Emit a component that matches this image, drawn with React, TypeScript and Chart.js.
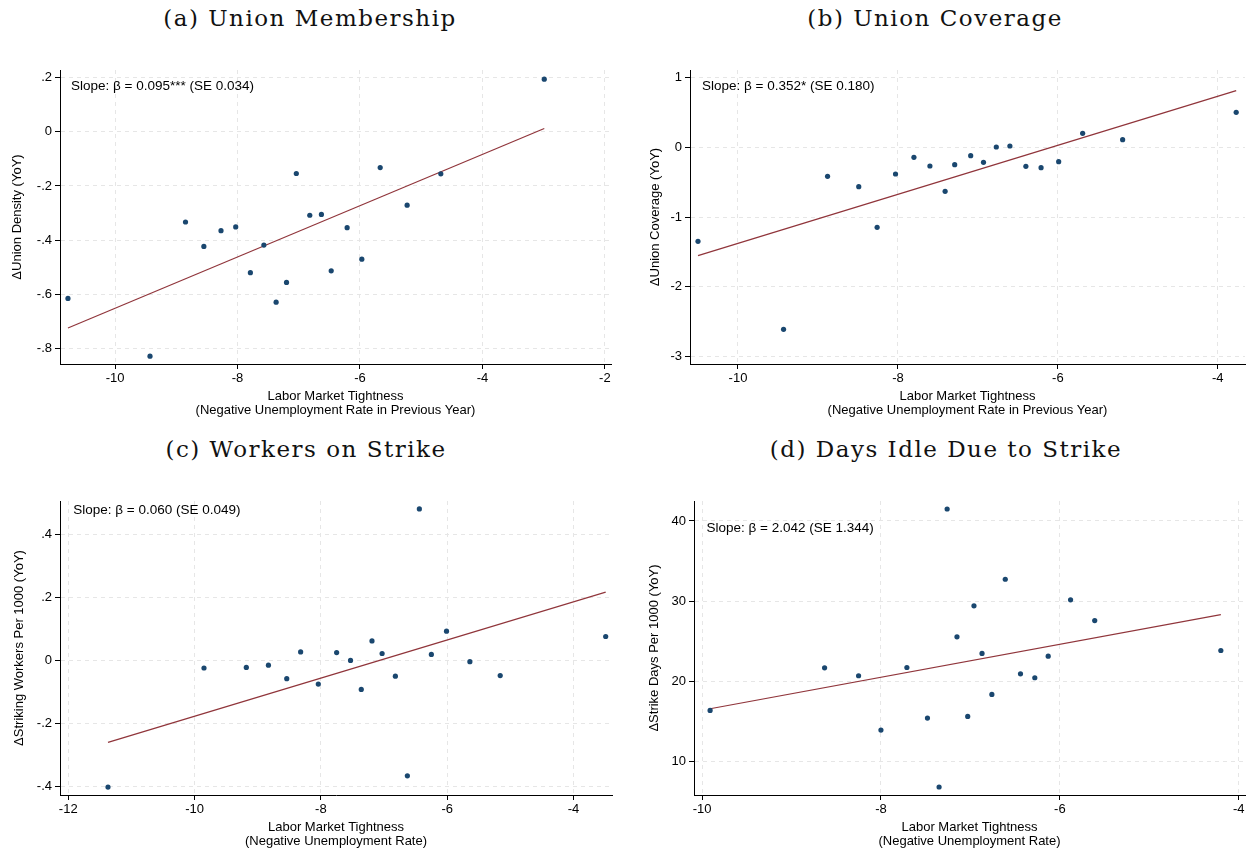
import React, { useEffect, useRef } from "react";
import { Chart, registerables } from "chart.js";

Chart.register(...registerables);

// ---------- (a) Union Membership ----------
const memberX = [-10.77, -9.43, -8.85, -8.55, -8.27, -8.03, -7.79, -7.57, -7.37, -7.2, -7.04, -6.82, -6.63, -6.47, -6.21, -5.97, -5.67, -5.23, -4.68, -2.99];
const memberY = [-0.615, -0.828, -0.333, -0.423, -0.365, -0.351, -0.52, -0.418, -0.629, -0.556, -0.154, -0.308, -0.305, -0.513, -0.354, -0.47, -0.132, -0.271, -0.155, 0.194];
const memberFitX = [-10.77, -2.99];
const memberFitY = [-0.724, 0.012];
const memberXTicks = [-10, -8, -6, -4, -2];
const memberXTickLabels = ["-10", "-8", "-6", "-4", "-2"];
const memberYTicks = [0.2, 0, -0.2, -0.4, -0.6, -0.8];
const memberYTickLabels = [".2", "0", "-.2", "-.4", "-.6", "-.8"];
const memberXRange = [-10.9, -1.9];
const memberYRange = [-0.857, 0.228];
const memberNote = "Slope: β = 0.095*** (SE 0.034)";
const memberNoteAt = [-10.72, 0.168];

// ---------- (b) Union Coverage ----------
const coverX = [-10.5, -9.43, -8.88, -8.49, -8.26, -8.03, -7.8, -7.6, -7.41, -7.29, -7.09, -6.93, -6.77, -6.6, -6.4, -6.21, -5.99, -5.69, -5.19, -3.77];
const coverY = [-1.349, -2.612, -0.416, -0.565, -1.148, -0.383, -0.144, -0.268, -0.632, -0.249, -0.12, -0.215, 0.005, 0.019, -0.273, -0.292, -0.206, 0.201, 0.11, 0.502];
const coverFitX = [-10.5, -3.77];
const coverFitY = [-1.555, 0.813];
const coverXTicks = [-10, -8, -6, -4];
const coverXTickLabels = ["-10", "-8", "-6", "-4"];
const coverYTicks = [1, 0, -1, -2, -3];
const coverYTickLabels = ["1", "0", "-1", "-2", "-3"];
const coverXRange = [-10.6, -3.66];
const coverYRange = [-3.11, 1.11];
const coverNote = "Slope: β = 0.352* (SE 0.180)";
const coverNoteAt = [-10.45, 0.88];

// ---------- (c) Workers on Strike ----------
const workersX = [-11.37, -9.85, -9.18, -8.83, -8.54, -8.32, -8.04, -7.75, -7.53, -7.36, -7.19, -7.03, -6.82, -6.63, -6.44, -6.25, -6.01, -5.64, -5.16, -3.49];
const workersY = [-0.402, -0.024, -0.022, -0.015, -0.058, 0.027, -0.075, 0.025, 0.0, -0.092, 0.062, 0.022, -0.05, -0.366, 0.481, 0.019, 0.093, -0.004, -0.048, 0.076];
const workersFitX = [-11.37, -3.49];
const workersFitY = [-0.26, 0.217];
const workersXTicks = [-12, -10, -8, -6, -4];
const workersXTickLabels = ["-12", "-10", "-8", "-6", "-4"];
const workersYTicks = [0.4, 0.2, 0, -0.2, -0.4];
const workersYTickLabels = [".4", ".2", "0", "-.2", "-.4"];
const workersXRange = [-12.13, -3.39];
const workersYRange = [-0.427, 0.506];
const workersNote = "Slope: β = 0.060 (SE 0.049)";
const workersNoteAt = [-11.92, 0.475];

// ---------- (d) Days Idle Due to Strike ----------
const daysX = [-9.91, -8.63, -8.25, -8.0, -7.71, -7.48, -7.35, -7.26, -7.15, -7.03, -6.96, -6.87, -6.76, -6.61, -6.44, -6.28, -6.13, -5.88, -5.61, -4.2];
const daysY = [16.39, 21.7, 20.71, 13.94, 21.74, 15.44, 6.85, 41.49, 25.56, 15.64, 29.42, 23.49, 18.38, 32.74, 20.95, 20.46, 23.15, 30.17, 27.59, 23.86];
const daysFitX = [-9.91, -4.2];
const daysFitY = [16.6, 28.34];
const daysXTicks = [-10, -8, -6, -4];
const daysXTickLabels = ["-10", "-8", "-6", "-4"];
const daysYTicks = [40, 30, 20, 10];
const daysYTickLabels = ["40", "30", "20", "10"];
const daysXRange = [-10.09, -3.93];
const daysYRange = [5.85, 42.49];
const daysNote = "Slope: β = 2.042 (SE 1.344)";
const daysNoteAt = [-9.95, 39.05];

const titleTightness = "Labor Market Tightness";
const subPrevYear = "(Negative Unemployment Rate in Previous Year)";
const subCurrent = "(Negative Unemployment Rate)";

const SANS = "'Liberation Sans', Arial, Helvetica, sans-serif";
const DOT = "#1a476f";
const FIT = "#90353b";
const GRID = "#e6e6e6";
const INK = "#000000";

type PanelSpec = {
  title: string;
  titleCx: number;
  titleTop: number;
  box: { left: number; top: number; width: number; height: number };
  area: { l: number; t: number; r: number; b: number };
  yTitlePad: number;
  xs: number[];
  ys: number[];
  fitX: number[];
  fitY: number[];
  xTicks: number[];
  xTickLabels: string[];
  yTicks: number[];
  yTickLabels: string[];
  xRange: number[];
  yRange: number[];
  yTitle: string;
  xTitle: string[];
  note: string;
  noteAt: number[];
};

const PANELS: PanelSpec[] = [
  {
    title: "(a) Union Membership",
    titleCx: 310,
    titleTop: 5,
    box: { left: 0, top: 55, width: 625, height: 364 },
    area: { l: 60, t: 70, r: 611, b: 364 },
    yTitlePad: 10,
    xs: memberX, ys: memberY, fitX: memberFitX, fitY: memberFitY,
    xTicks: memberXTicks, xTickLabels: memberXTickLabels,
    yTicks: memberYTicks, yTickLabels: memberYTickLabels,
    xRange: memberXRange, yRange: memberYRange,
    yTitle: "ΔUnion Density (YoY)",
    xTitle: [titleTightness, subPrevYear],
    note: memberNote, noteAt: memberNoteAt,
  },
  {
    title: "(b) Union Coverage",
    titleCx: 935,
    titleTop: 5,
    box: { left: 625, top: 55, width: 624, height: 364 },
    area: { l: 690, t: 70, r: 1247, b: 364 },
    yTitlePad: 23,
    xs: coverX, ys: coverY, fitX: coverFitX, fitY: coverFitY,
    xTicks: coverXTicks, xTickLabels: coverXTickLabels,
    yTicks: coverYTicks, yTickLabels: coverYTickLabels,
    xRange: coverXRange, yRange: coverYRange,
    yTitle: "ΔUnion Coverage (YoY)",
    xTitle: [titleTightness, subPrevYear],
    note: coverNote, noteAt: coverNoteAt,
  },
  {
    title: "(c) Workers on Strike",
    titleCx: 306,
    titleTop: 436,
    box: { left: 0, top: 486, width: 625, height: 364 },
    area: { l: 60, t: 501, r: 612, b: 795 },
    yTitlePad: 12,
    xs: workersX, ys: workersY, fitX: workersFitX, fitY: workersFitY,
    xTicks: workersXTicks, xTickLabels: workersXTickLabels,
    yTicks: workersYTicks, yTickLabels: workersYTickLabels,
    xRange: workersXRange, yRange: workersYRange,
    yTitle: "ΔStriking Workers Per 1000 (YoY)",
    xTitle: [titleTightness, subCurrent],
    note: workersNote, noteAt: workersNoteAt,
  },
  {
    title: "(d) Days Idle Due to Strike",
    titleCx: 946,
    titleTop: 436,
    box: { left: 625, top: 486, width: 624, height: 364 },
    area: { l: 694, t: 501, r: 1248, b: 795 },
    yTitlePad: 22,
    xs: daysX, ys: daysY, fitX: daysFitX, fitY: daysFitY,
    xTicks: daysXTicks, xTickLabels: daysXTickLabels,
    yTicks: daysYTicks, yTickLabels: daysYTickLabels,
    xRange: daysXRange, yRange: daysYRange,
    yTitle: "ΔStrike Days Per 1000 (YoY)",
    xTitle: [titleTightness, subCurrent],
    note: daysNote, noteAt: daysNoteAt,
  },
];

function Panel({ spec }: { spec: PanelSpec }) {
  const ref = useRef<HTMLCanvasElement | null>(null);

  useEffect(() => {
    const canvas = ref.current;
    if (!canvas) return;
    const { box, area } = spec;
    const xHeight = box.top + box.height - area.b;
    const yWidth = area.l - box.left;

    const notePlugin = {
      id: "slopeNote",
      afterDatasetsDraw(chart: any) {
        const ctx = chart.ctx;
        const px = chart.scales.x.getPixelForValue(spec.noteAt[0]);
        const py = chart.scales.y.getPixelForValue(spec.noteAt[1]);
        ctx.save();
        ctx.font = `13.5px ${SANS}`;
        ctx.fillStyle = INK;
        ctx.textAlign = "left";
        ctx.textBaseline = "middle";
        ctx.fillText(spec.note, px, py);
        ctx.restore();
      },
    };

    const chart = new Chart(canvas, {
      type: "scatter",
      data: {
        datasets: [
          {
            type: "line",
            data: spec.fitX.map((x, i) => ({ x, y: spec.fitY[i] })),
            borderColor: FIT,
            borderWidth: 1.2,
            pointRadius: 0,
            fill: false,
            tension: 0,
            order: 2,
          } as any,
          {
            type: "scatter",
            data: spec.xs.map((x, i) => ({ x, y: spec.ys[i] })),
            backgroundColor: DOT,
            borderColor: DOT,
            borderWidth: 0,
            pointRadius: 2.6,
            order: 1,
          },
        ],
      },
      options: {
        responsive: false,
        animation: false,
        devicePixelRatio: 1,
        layout: {
          padding: {
            left: 0,
            top: area.t - box.top,
            right: box.left + box.width - area.r,
            bottom: 0,
          },
        },
        plugins: {
          legend: { display: false },
          tooltip: { enabled: false },
          title: { display: false },
        },
        scales: {
          x: {
            type: "linear",
            position: "bottom",
            min: spec.xRange[0],
            max: spec.xRange[1],
            afterBuildTicks: (s: any) => {
              s.ticks = spec.xTicks.map((v) => ({ value: v }));
            },
            afterFit: (s: any) => {
              s.height = xHeight;
              s.paddingLeft = 0;
              s.paddingRight = 0;
            },
            grid: {
              color: GRID,
              lineWidth: 1,
              drawTicks: true,
              tickLength: 5,
              tickColor: INK,
              tickWidth: 1,
            },
            border: { display: true, color: INK, width: 1, dash: [4, 4] },
            ticks: {
              autoSkip: false,
              maxRotation: 0,
              padding: 2,
              color: INK,
              font: { family: SANS, size: 13 },
              callback: (_v: any, i: number) => spec.xTickLabels[i],
            },
            title: {
              display: true,
              text: spec.xTitle,
              color: INK,
              font: { family: SANS, size: 13, lineHeight: "13.5px" },
              padding: { top: 0, bottom: 2 },
            },
          },
          y: {
            type: "linear",
            position: "left",
            min: spec.yRange[0],
            max: spec.yRange[1],
            afterBuildTicks: (s: any) => {
              s.ticks = spec.yTicks.map((v) => ({ value: v }));
            },
            afterFit: (s: any) => {
              s.width = yWidth;
              s.paddingTop = 0;
              s.paddingBottom = 0;
            },
            grid: {
              color: GRID,
              lineWidth: 1,
              drawTicks: true,
              tickLength: 5,
              tickColor: INK,
              tickWidth: 1,
            },
            border: { display: true, color: INK, width: 1, dash: [4, 4] },
            ticks: {
              autoSkip: false,
              padding: 3,
              color: INK,
              font: { family: SANS, size: 13 },
              callback: (_v: any, i: number) => spec.yTickLabels[i],
            },
            title: {
              display: true,
              text: spec.yTitle,
              color: INK,
              font: { family: SANS, size: 13, lineHeight: "14px" },
              padding: { top: spec.yTitlePad, bottom: 0 },
            },
          },
        },
      },
      plugins: [notePlugin],
    } as any);

    return () => chart.destroy();
  }, [spec]);

  return (
    <>
      <div
        style={{
          position: "absolute",
          left: spec.titleCx - 300,
          top: spec.titleTop,
          width: 600,
          textAlign: "center",
          fontFamily: "'DejaVu Serif', 'Liberation Serif', serif",
          fontSize: 23,
          lineHeight: "27px",
          letterSpacing: "1.5px",
          color: "#111",
          whiteSpace: "nowrap",
        }}
      >
        {spec.title}
      </div>
      <canvas
        ref={ref}
        width={spec.box.width}
        height={spec.box.height}
        style={{
          position: "absolute",
          left: spec.box.left,
          top: spec.box.top,
          width: spec.box.width,
          height: spec.box.height,
        }}
      />
    </>
  );
}

export default function App() {
  return (
    <div
      style={{
        position: "absolute",
        left: 0,
        top: 0,
        width: 1249,
        height: 852,
        background: "#ffffff",
        overflow: "hidden",
      }}
    >
      {PANELS.map((p) => (
        <Panel key={p.title} spec={p} />
      ))}
    </div>
  );
}
